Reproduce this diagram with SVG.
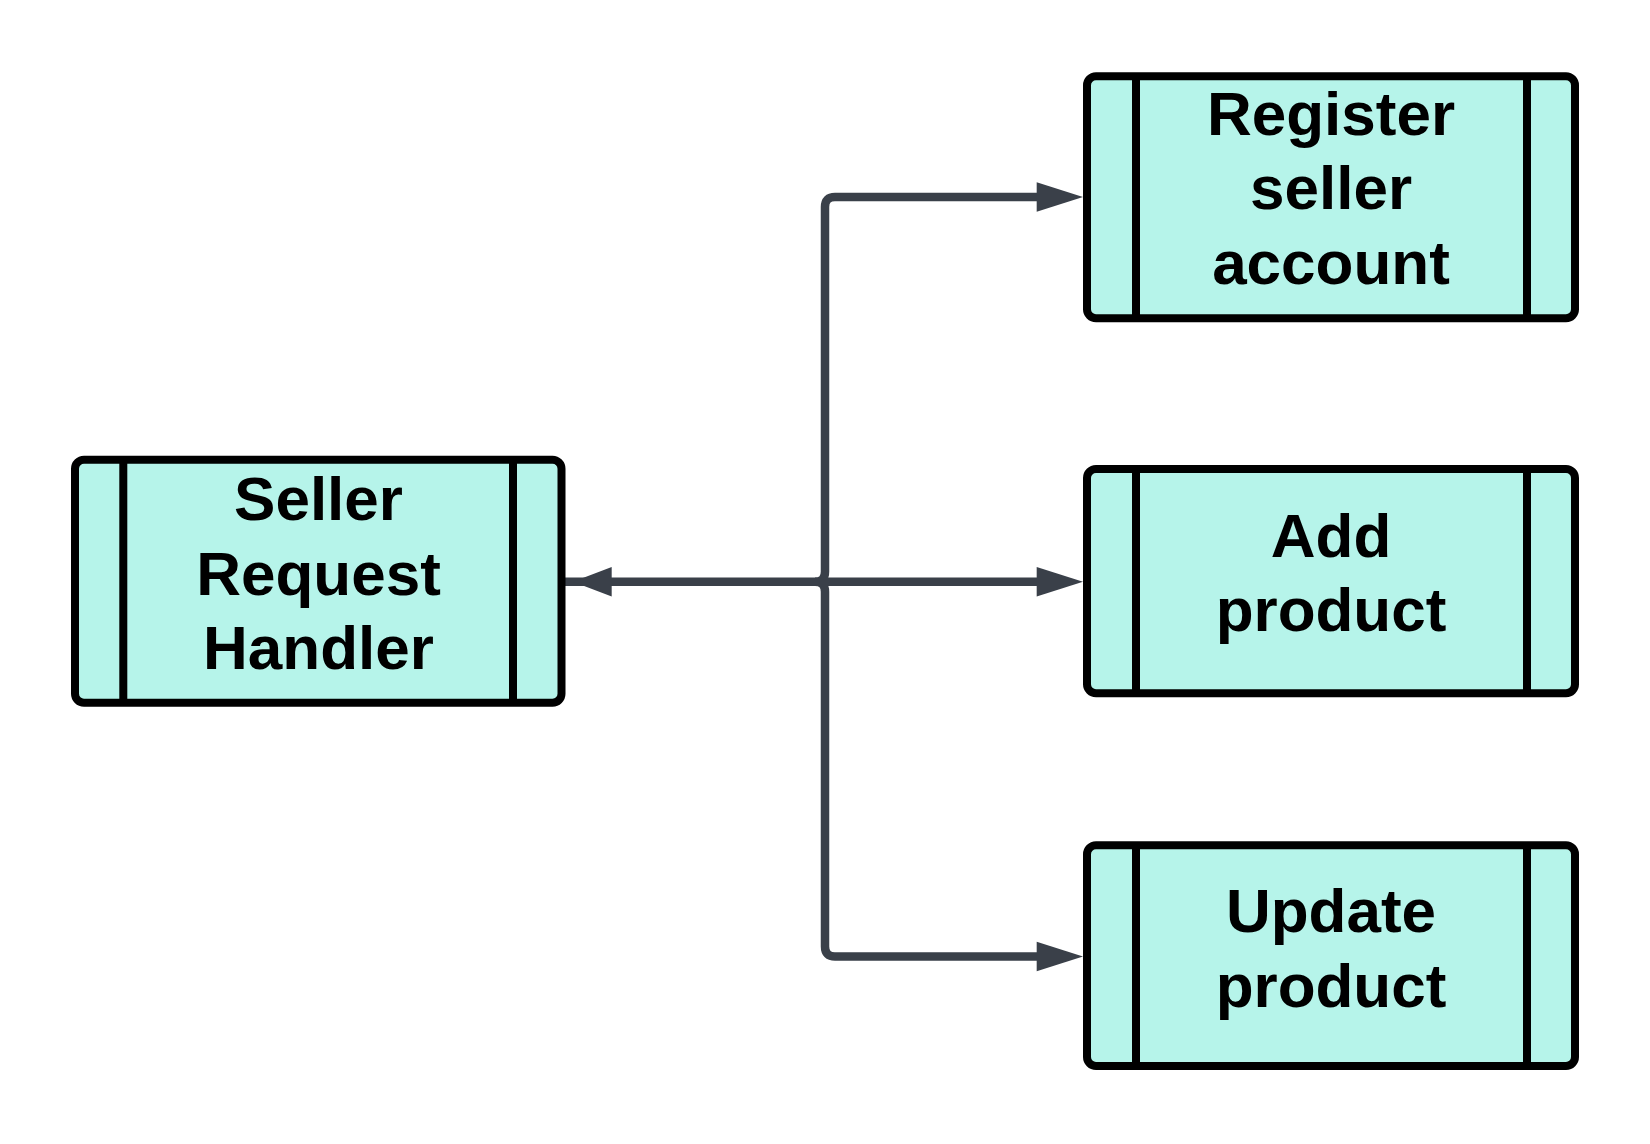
<svg xmlns="http://www.w3.org/2000/svg" width="1650" height="1144" viewBox="0 0 1650 1144">
<style>
.box{fill:#b6f4ea;stroke:#000;stroke-width:8}
.div{stroke:#000;stroke-width:8;fill:none}
.lbl{font-family:"Liberation Sans",Arial,sans-serif;font-weight:bold;font-size:62px;fill:#000;text-anchor:middle}
.con{fill:none;stroke:#3a4049;stroke-width:8.5;stroke-linejoin:round}
.ah{fill:#3a4049}
</style>
<rect width="1650" height="1144" fill="#fff"/>
<g id="connectors">
<path class="con" d="M565,581.7 H815 Q825,581.7 825,571.7 V207 Q825,197 835,197 H1040"/>
<path class="con" d="M815,581.7 Q825,581.7 825,591.7 V946.5 Q825,956.5 835,956.5 H1040"/>
<path class="con" d="M825,581.7 H1040"/>
<polygon class="ah" points="1083,197 1036.7,182.3 1036.7,211.7"/>
<polygon class="ah" points="1083,581.7 1036.7,567 1036.7,596.4"/>
<polygon class="ah" points="1083,956.5 1036.7,941.8 1036.7,971.2"/>
<polygon class="ah" points="573,581.7 611.7,567 611.7,596.4"/>
</g>
<g id="seller-request-handler">
<rect class="box" x="75" y="459.7" width="486.5" height="243" rx="9"/>
<path class="div" d="M123.3,459.7 V702.7 M513,459.7 V702.7"/>
<text class="lbl" x="318.5" y="520">Seller</text>
<text class="lbl" x="318.5" y="594.5">Request</text>
<text class="lbl" x="318.5" y="669">Handler</text>
</g>
<g id="register-seller-account">
<rect class="box" x="1087" y="76.3" width="488" height="242" rx="9"/>
<path class="div" d="M1136,76.3 V318.3 M1527,76.3 V318.3"/>
<text class="lbl" x="1331" y="134.7">Register</text>
<text class="lbl" x="1331" y="209.4">seller</text>
<text class="lbl" x="1331" y="284">account</text>
</g>
<g id="add-product">
<rect class="box" x="1087" y="469" width="488" height="224.3" rx="9"/>
<path class="div" d="M1136,469 V693.3 M1527,469 V693.3"/>
<text class="lbl" x="1331" y="556.7">Add</text>
<text class="lbl" x="1331" y="631.4">product</text>
</g>
<g id="update-product">
<rect class="box" x="1087" y="845.3" width="488" height="220.7" rx="9"/>
<path class="div" d="M1136,845.3 V1066 M1527,845.3 V1066"/>
<text class="lbl" x="1331" y="932.3">Update</text>
<text class="lbl" x="1331" y="1007">product</text>
</g>
</svg>
